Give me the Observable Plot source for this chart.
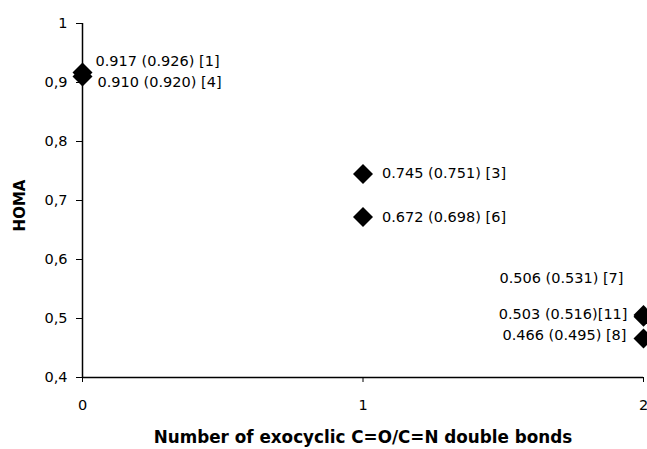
<!DOCTYPE html>
<html>
<head>
<meta charset="utf-8">
<script src="https://cdn.jsdelivr.net/npm/d3@7"></script>
<script src="https://cdn.jsdelivr.net/npm/@observablehq/plot@0.6"></script>
<style>
  html, body { margin: 0; padding: 0; background: #fff; }
</style>
</head>
<body>
<div id="chart"></div>
<script>
const bonds = [0, 0, 1, 1, 2, 2, 2];
const homa = [0.917, 0.910, 0.745, 0.672, 0.506, 0.503, 0.466];
const homaAlt = [0.926, 0.920, 0.751, 0.698, 0.531, 0.516, 0.495];
const labels = [
  "0.917 (0.926) [1]",
  "0.910 (0.920) [4]",
  "0.745 (0.751) [3]",
  "0.672 (0.698) [6]",
  "0.506 (0.531) [7]",
  "0.503 (0.516)[11]",
  "0.466 (0.495) [8]"
];
const xTicks = [0, 1, 2];
const yTicks = [0.4, 0.5, 0.6, 0.7, 0.8, 0.9, 1];
const xTitle = "Number of exocyclic C=O/C=N double bonds";
const yTitle = "HOMA";

const data = bonds.map((b, i) => ({ bonds: b, homa: homa[i], alt: homaAlt[i], label: labels[i], i }));

// label placement (style only): [index, dx, dy, anchor]
const place = [
  [0, 13, -11, "start"],
  [1, 15, 6, "start"],
  [2, 19, -1, "start"],
  [3, 19, 0, "start"],
  [4, -20, -37, "end"],
  [5, -16, -2, "end"],
  [6, -17, -3, "end"]
];

const font = "'DejaVu Sans', 'Liberation Sans', Arial, sans-serif";
const fmtY = d => String(d).replace(".", ",");

const labelMarks = place.map(([idx, dx, dy, anchor]) =>
  Plot.text(data.filter(d => d.i === idx), {
    x: "bonds", y: "homa", text: "label",
    dx, dy, textAnchor: anchor, fontSize: 14.5, fill: "#000",
    lineAnchor: "middle"
  })
);

const chart = Plot.plot({
  width: 647,
  height: 449,
  marginLeft: 82,
  marginRight: 4,
  marginTop: 23,
  marginBottom: 72,
  style: { fontFamily: font, fontSize: "14.5px", color: "#000", background: "#fff", overflow: "visible" },
  x: { domain: [0, 2] },
  y: { domain: [0.4, 1] },
  marks: [
    Plot.axisX({ ticks: xTicks, tickFormat: d => String(d), tickSize: 5, tickPadding: 17, label: null, fontSize: 14.5 }),
    Plot.axisY({ ticks: yTicks, tickFormat: fmtY, tickSize: 6, tickPadding: 9, label: null, fontSize: 14.5 }),
    Plot.ruleX([0], { y1: 0.4, y2: 1, stroke: "#000", strokeWidth: 1.5 }),
    Plot.ruleY([0.4], { x1: 0, x2: 2, stroke: "#000", strokeWidth: 1.5 }),
    Plot.dot(data, { x: "bonds", y: "homa", symbol: "diamond2", r: 9, fill: "#000" }),
    ...labelMarks,
    Plot.text([xTitle], {
      text: d => d, frameAnchor: "bottom", textAnchor: "middle", lineAnchor: "bottom", dy: 65,
      fontSize: 16.8, fontWeight: "bold", fill: "#000"
    }),
    Plot.text([yTitle], {
      text: d => d, frameAnchor: "left", textAnchor: "middle", lineAnchor: "middle", rotate: -90, dx: -62, dy: 5,
      fontSize: 15, fontWeight: "bold", fill: "#000"
    })
  ]
});

document.getElementById("chart").appendChild(chart);
</script>
</body>
</html>
